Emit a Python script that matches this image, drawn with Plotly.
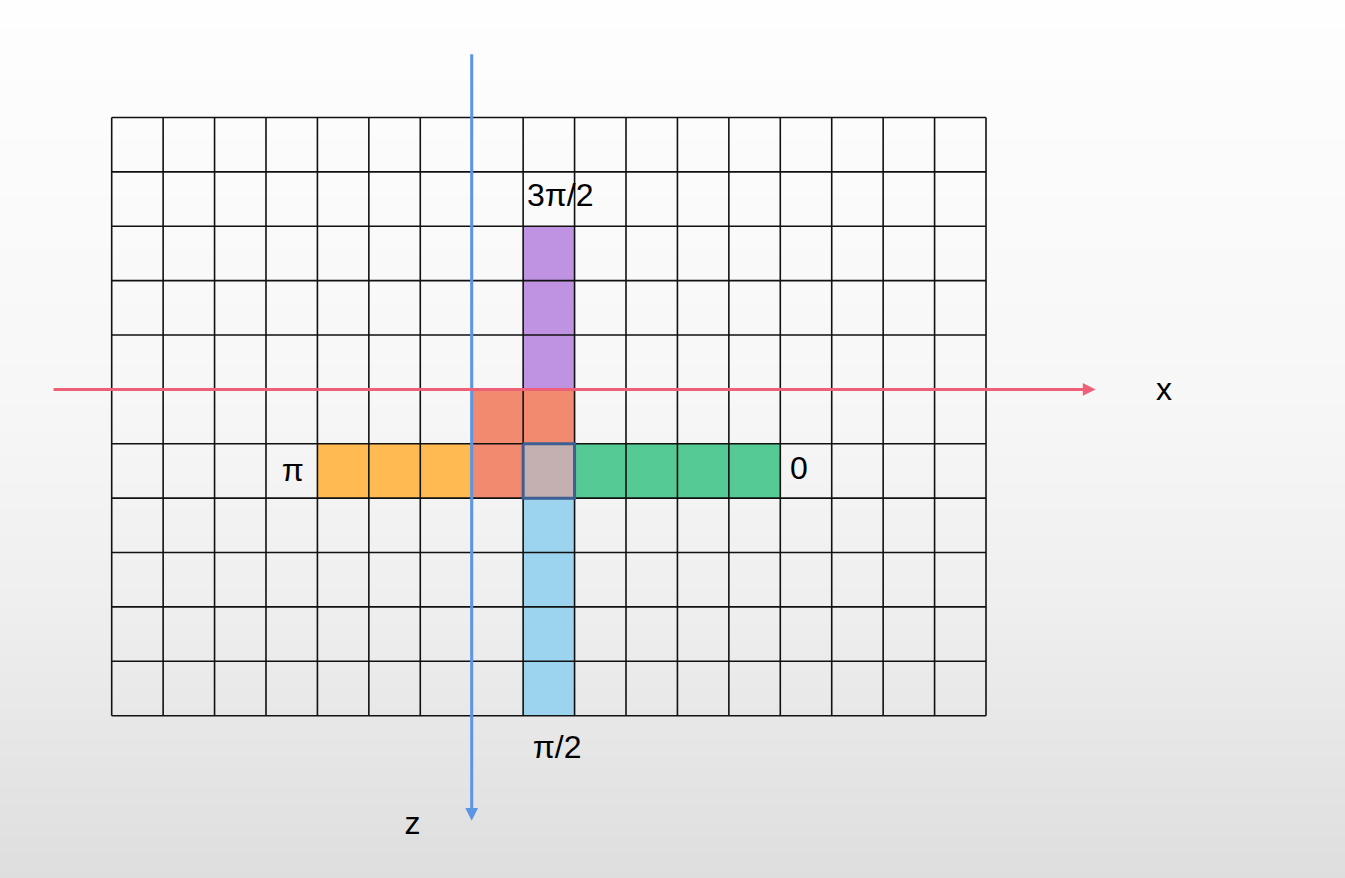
import numpy as np
import plotly.graph_objects as go

# grid size (cells)
n_cols = 17
n_rows = 11

# coloured cells: (column, row), row 0 at the top
purple_cells = [(8, 2), (8, 3), (8, 4)]
salmon_cells = [(7, 5), (8, 5), (7, 6)]
orange_cells = [(4, 6), (5, 6), (6, 6)]
centre_cells = [(8, 6)]
green_cells = [(9, 6), (10, 6), (11, 6), (12, 6)]
blue_cells = [(8, 7), (8, 8), (8, 9), (8, 10)]

# axes drawn over the grid
x_axis_row = 5
x_axis_from, x_axis_to = -1.16, 19.13
z_axis_col = 7
z_axis_from, z_axis_to = -1.19, 12.93

# angle labels
label_text = ["3π/2", "π", "0", "π/2"]
label_x = [8.72, 3.52, 13.36, 8.66]
label_y = [1.48, 6.53, 6.5, 11.63]

# axis names
axis_text = ["x", "z"]
axis_x = [20.46, 5.85]
axis_y = [5.05, 13.03]

W, H = 1345, 878
cell_w, cell_h = 51.43, 54.38
left_px, top_px = 111.7, 117.5
x_range = [-left_px / cell_w, (W - left_px) / cell_w]
y_range = [(H - top_px) / cell_h, -top_px / cell_h]


def cell_path(cells):
    xs, ys = [], []
    for c, r in cells:
        xs += [c, c + 1, c + 1, c, c, None]
        ys += [r, r, r + 1, r + 1, r, None]
    return xs, ys


fig = go.Figure()

# soft grey background gradient
bg_y = np.linspace(y_range[1], y_range[0], 200)
bg_px = bg_y * cell_h + top_px
bg_level = np.interp(bg_px, [0, 390, 600, 878], [254, 247, 239, 222])
fig.add_trace(go.Heatmap(
    x=[x_range[0] - 1, x_range[1] + 1],
    y=bg_y,
    z=[[v, v] for v in bg_level],
    zmin=222, zmax=254,
    colorscale=[[0, "rgb(222,222,222)"], [1, "rgb(254,254,254)"]],
    showscale=False, hoverinfo="skip",
))

fills = [
    (purple_cells, "#BF93E2"),
    (salmon_cells, "#F28A70"),
    (orange_cells, "#FFBA52"),
    (centre_cells, "#C4AFB1"),
    (green_cells, "#55CA95"),
    (blue_cells, "#9CD3EF"),
]
for cells, colour in fills:
    xs, ys = cell_path(cells)
    fig.add_trace(go.Scatter(x=xs, y=ys, mode="lines", fill="toself",
                             fillcolor=colour, line=dict(width=0),
                             hoverinfo="skip", showlegend=False))

# grid lines
gx, gy = [], []
for c in range(n_cols + 1):
    gx += [c, c, None]
    gy += [0, n_rows, None]
for r in range(n_rows + 1):
    gx += [0, n_cols, None]
    gy += [r, r, None]
fig.add_trace(go.Scatter(x=gx, y=gy, mode="lines",
                         line=dict(color="#111111", width=1.6),
                         hoverinfo="skip", showlegend=False))

# outline of the centre cell
xs, ys = cell_path(centre_cells)
fig.add_trace(go.Scatter(x=xs, y=ys, mode="lines",
                         line=dict(color="#3D5F94", width=3),
                         hoverinfo="skip", showlegend=False))

# z axis (blue) and x axis (red) with arrow heads
fig.add_annotation(x=z_axis_col, y=z_axis_to, ax=z_axis_col, ay=z_axis_from,
                   xref="x", yref="y", axref="x", ayref="y", text="",
                   showarrow=True, arrowhead=2, arrowsize=0.85, arrowwidth=3,
                   arrowcolor="#5B95E6", standoff=0)
fig.add_annotation(x=x_axis_to, y=x_axis_row, ax=x_axis_from, ay=x_axis_row,
                   xref="x", yref="y", axref="x", ayref="y", text="",
                   showarrow=True, arrowhead=2, arrowsize=0.85, arrowwidth=3,
                   arrowcolor="#EE6078", standoff=0)

fig.add_trace(go.Scatter(x=label_x + axis_x, y=label_y + axis_y, mode="text",
                         text=label_text + axis_text,
                         textfont=dict(family="Liberation Sans", size=32, color="black"),
                         hoverinfo="skip", showlegend=False))

fig.update_xaxes(range=x_range, visible=False, fixedrange=True)
fig.update_yaxes(range=y_range, visible=False, fixedrange=True)
fig.update_layout(width=W, height=H, margin=dict(l=0, r=0, t=0, b=0),
                  paper_bgcolor="white", plot_bgcolor="white", showlegend=False)

fig.write_html("out.html", config={"displayModeBar": False},
               post_script="document.body.style.margin='0';document.body.style.overflow='hidden';")
